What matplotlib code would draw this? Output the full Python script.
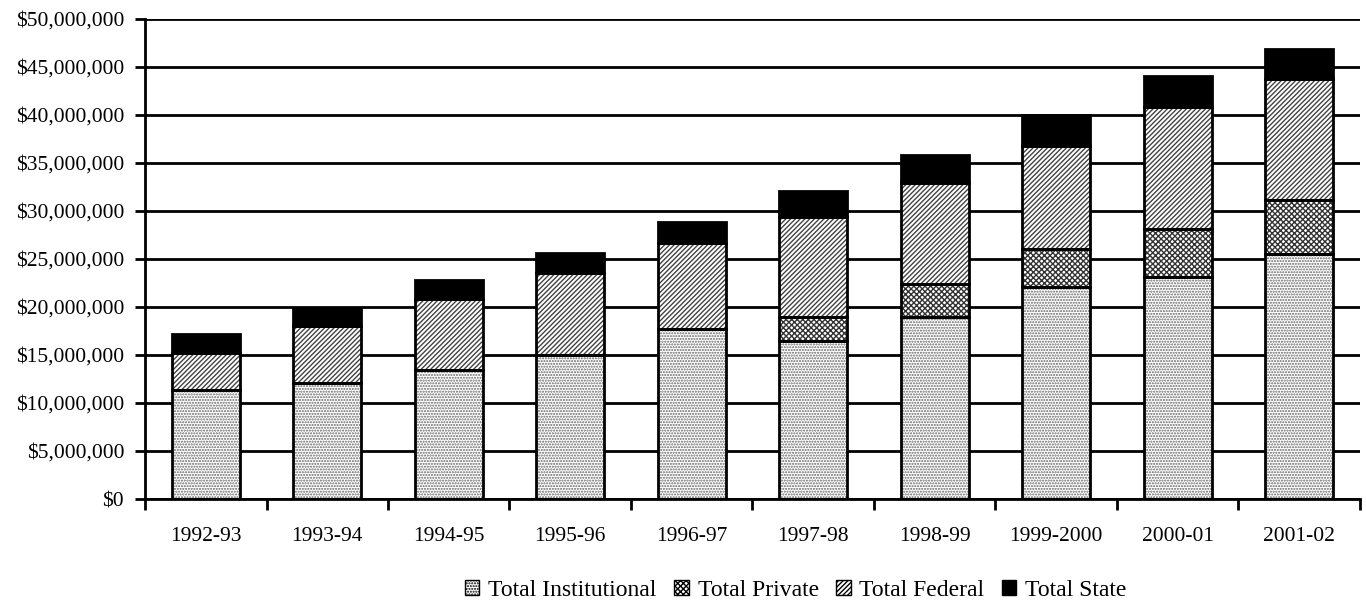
import matplotlib.pyplot as plt
import numpy as np

plt.rcParams['font.family'] = ['Liberation Serif', 'DejaVu Serif']
plt.rcParams['hatch.linewidth'] = 1.0

years = ['1992-93', '1993-94', '1994-95', '1995-96', '1996-97',
         '1997-98', '1998-99', '1999-2000', '2000-01', '2001-02']
institutional = [11.35, 12.1, 13.4, 15.0, 17.7, 16.5, 19.0, 22.1, 23.1, 25.5]
private = [0, 0, 0, 0, 0, 2.5, 3.4, 3.9, 5.0, 5.6]
federal = [3.85, 5.9, 7.4, 8.5, 9.0, 10.4, 10.5, 10.8, 12.7, 12.7]
state = [2.0, 1.9, 2.0, 2.1, 2.2, 2.7, 2.9, 3.2, 3.3, 3.1]

series = [institutional, private, federal, state]
names = ['Total Institutional', 'Total Private', 'Total Federal', 'Total State']
hatches = ['......', 'xxxxxx', '///////', None]
hatch_cols = ['#666666', '#333333', '#444444', 'black']
colors = ['white', 'white', 'white', 'black']

fig = plt.figure(figsize=(13.66, 6.04), dpi=100)
ax = fig.add_axes([145 / 1366, 105 / 604, 1215 / 1366, 480 / 604])

x = np.arange(len(years))
w = 0.56
bottom = np.zeros(len(years))
handles = []
for vals, name, h, hc, c in zip(series, names, hatches, hatch_cols, colors):
    vals = np.array(vals) * 1e6
    ax.bar(x, vals, w, bottom=bottom, color=c, hatch=h, edgecolor=hc,
           linewidth=0, zorder=3)
    ax.bar(x, vals, w, bottom=bottom, fill=False, edgecolor='black',
           linewidth=2, zorder=4)
    handles.append(plt.Rectangle((0, 0), 1, 1, facecolor=c, hatch=h,
                                 edgecolor='black', linewidth=1))
    bottom += vals

ax.set_xlim(-0.5, len(years) - 0.5)
ax.set_ylim(0, 50e6)
ax.set_yticks(np.arange(0, 50e6 + 1, 5e6))
ax.set_yticklabels(['${:,.0f}'.format(v) for v in np.arange(0, 50e6 + 1, 5e6)])
ax.yaxis.grid(True, color='black', linewidth=2, zorder=1)

ax.set_xticks(np.arange(-0.5, len(years), 1))
ax.set_xticklabels([])
ax.set_xticks(x, minor=True)
ax.set_xticklabels(years, minor=True)
ax.tick_params(axis='x', which='major', length=8, width=2, direction='out')
ax.tick_params(axis='x', which='minor', length=0, pad=20, labelsize=15.5)
ax.tick_params(axis='y', length=7, width=2, labelsize=15.5, pad=8)

for s in ['top', 'right']:
    ax.spines[s].set_visible(False)
ax.spines['left'].set_linewidth(2)
ax.spines['bottom'].set_linewidth(2)
ax.spines['bottom'].set_zorder(5)

fig.legend(handles, names, loc='center', bbox_to_anchor=(796 / 1366, 1 - 590 / 604),
           ncol=4, frameon=False, fontsize=17, handlelength=0.6, handleheight=0.6,
           handletextpad=0.38, columnspacing=0.75)

fig.savefig('out.png', dpi=100)
